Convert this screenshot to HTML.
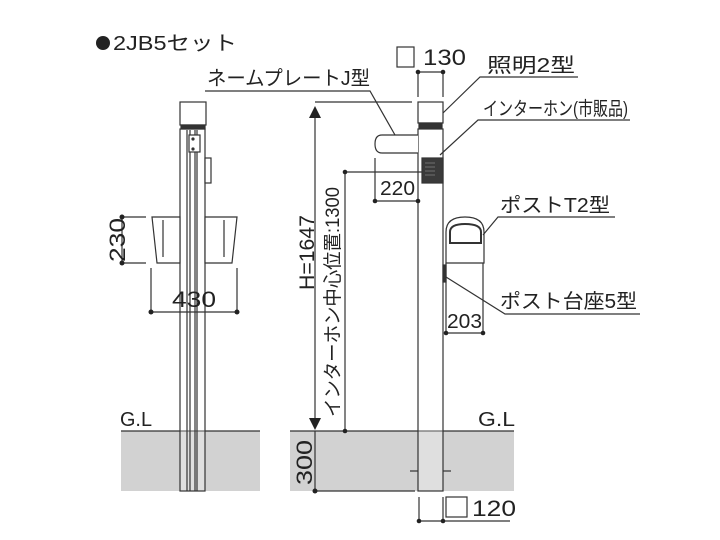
<!DOCTYPE html>
<html><head><meta charset="utf-8"><style>
html,body{margin:0;padding:0;background:#fff;}
svg{display:block;}
text{font-family:"Liberation Sans","Noto Sans CJK JP",sans-serif;fill:#222;}
</style></head><body>
<svg width="720" height="540" viewBox="0 0 720 540" xmlns="http://www.w3.org/2000/svg">
<g stroke="#333" stroke-width="1.2" fill="none">
<rect x="121" y="431" width="139" height="60" fill="#d2d2d2" stroke="none"/>
<rect x="290" y="431" width="224" height="60" fill="#d2d2d2" stroke="none"/>
<line x1="121" y1="431" x2="260" y2="431"/>
<line x1="290" y1="431" x2="514" y2="431"/>

<rect x="180" y="102" width="26" height="23" fill="#fff"/>
<rect x="181" y="125" width="24" height="4" fill="#333"/>
<rect x="180" y="129" width="25" height="362" fill="#fff" fill-opacity="0.3"/>
<line x1="187" y1="130" x2="187" y2="491"/>
<line x1="190" y1="130" x2="190" y2="491"/>
<line x1="195" y1="130" x2="195" y2="491"/>
<line x1="197" y1="130" x2="197" y2="491"/>
<rect x="189" y="135" width="11" height="17" fill="#fff"/>
<circle cx="193" cy="139" r="1" fill="#333"/><circle cx="193" cy="149" r="1" fill="#333"/>
<rect x="205" y="158" width="6" height="25" fill="#fff"/>
<path d="M152 217 L180 217 L180 263 L157 263 Z" fill="#fff"/>
<path d="M205 217 L237 217 L232 263 L205 263 Z" fill="#fff"/>
<line x1="163" y1="220" x2="163" y2="257"/>
<line x1="224" y1="220" x2="224" y2="257"/>
<line x1="122" y1="217" x2="122" y2="263"/>
<line x1="122" y1="217" x2="146" y2="217"/>
<line x1="122" y1="263" x2="146" y2="263"/>
<line x1="151" y1="268" x2="151" y2="312"/>
<line x1="237" y1="268" x2="237" y2="312"/>
<line x1="151" y1="312" x2="237" y2="312"/>

<rect x="418" y="102" width="25" height="21" fill="#fff"/>
<rect x="419" y="123" width="23" height="5" fill="#333"/>
<rect x="418" y="129" width="25" height="362" fill="#fff" fill-opacity="0.3"/>
<line x1="410" y1="471" x2="418" y2="471"/><line x1="443" y1="471" x2="451" y2="471"/>
<path d="M418 135 L382 135 Q375 135 375 144 Q375 153 382 153 L418 153" fill="#fff"/>
<rect x="422" y="158" width="21" height="25" fill="#3a3a3a"/>
<g stroke="#888" stroke-width="0.7"><line x1="425" y1="163" x2="435" y2="163"/><line x1="425" y1="167" x2="435" y2="167"/><line x1="425" y1="171" x2="435" y2="171"/><line x1="425" y1="175" x2="435" y2="175"/></g>
<path d="M446 263 L446 232 Q446 217 465 217 Q484 217 484 232 L484 263 Z" fill="#fff"/>
<path d="M450 243 L450 232 Q450 224 465 224 Q481 224 481 232 L481 243 Z" fill="none" stroke-width="2"/>
<rect x="443" y="265" width="3" height="17" fill="#333"/>
<rect x="397" y="47" width="17" height="20" fill="#fff"/>
<line x1="418" y1="72" x2="418" y2="97"/><line x1="443" y1="72" x2="443" y2="97"/>
<line x1="418" y1="72" x2="443" y2="72"/>
<line x1="315" y1="102" x2="412" y2="102"/>
<line x1="315" y1="118" x2="315" y2="418"/>
<line x1="315" y1="431" x2="315" y2="491"/>
<line x1="315" y1="491" x2="415" y2="491"/>
<line x1="345" y1="172" x2="422" y2="172"/>
<line x1="345" y1="172" x2="345" y2="431"/>
<line x1="375" y1="158" x2="375" y2="201"/>
<line x1="375" y1="201" x2="418" y2="201"/>
<line x1="446" y1="263" x2="446" y2="333"/>
<line x1="483" y1="263" x2="483" y2="333"/>
<line x1="446" y1="333" x2="483" y2="333"/>
<line x1="419" y1="497" x2="419" y2="521"/><line x1="443" y1="497" x2="443" y2="521"/>
<line x1="419" y1="521" x2="510" y2="521"/>
<rect x="446" y="497" width="21" height="20" fill="#fff"/>
<polyline points="205,91 370,91 395,135"/>
<polyline points="578,77 480,77 443,113"/>
<polyline points="630,120 478,120 440,155"/>
<polyline points="615,217 498,217 483,235"/>
<polyline points="640,314 505,314 446,277"/>
</g>
<g fill="#222">
<circle cx="103" cy="43" r="7"/>
<polygon points="315,106 309,118 321,118"/>
<polygon points="315,430 309,418 321,418"/>
<circle cx="122" cy="217" r="2.5"/><circle cx="122" cy="263" r="2.5"/>
<circle cx="151" cy="312" r="2.5"/><circle cx="237" cy="312" r="2.5"/>
<circle cx="418" cy="72" r="2.3"/><circle cx="443" cy="72" r="2.3"/>
<circle cx="375" cy="201" r="2.3"/><circle cx="418" cy="201" r="2.3"/>
<circle cx="345" cy="172" r="2.3"/><circle cx="345" cy="431" r="2.3"/>
<circle cx="315" cy="491" r="2.5"/>
<circle cx="446" cy="333" r="2.3"/><circle cx="483" cy="333" r="2.3"/>
<circle cx="419" cy="521" r="2.3"/><circle cx="443" cy="521" r="2.3"/>
</g>
<text x="113" y="50" font-size="20" textLength="124" lengthAdjust="spacingAndGlyphs">2JB5セット</text>
<text x="207" y="85" font-size="20" textLength="163" lengthAdjust="spacingAndGlyphs">ネームプレートJ型</text>
<text x="487" y="72" font-size="20" textLength="88" lengthAdjust="spacingAndGlyphs">照明2型</text>
<text x="483" y="115" font-size="19" textLength="145" lengthAdjust="spacingAndGlyphs">インターホン(市販品)</text>
<text x="500" y="212" font-size="20" textLength="110" lengthAdjust="spacingAndGlyphs">ポストT2型</text>
<text x="500" y="308" font-size="20" textLength="137" lengthAdjust="spacingAndGlyphs">ポスト台座5型</text>
<text x="423" y="65" font-size="22" textLength="43" lengthAdjust="spacingAndGlyphs">130</text>
<text x="472" y="516" font-size="22" textLength="44" lengthAdjust="spacingAndGlyphs">120</text>
<text x="380" y="195" font-size="20" textLength="35" lengthAdjust="spacingAndGlyphs">220</text>
<text x="447" y="328" font-size="20" textLength="35" lengthAdjust="spacingAndGlyphs">203</text>
<text x="172" y="307" font-size="22" textLength="44" lengthAdjust="spacingAndGlyphs">430</text>
<text x="120" y="426" font-size="20" textLength="32" lengthAdjust="spacingAndGlyphs">G.L</text>
<text x="478" y="426" font-size="20" textLength="37" lengthAdjust="spacingAndGlyphs">G.L</text>
<text transform="translate(125,262) rotate(-90)" font-size="22" textLength="44" lengthAdjust="spacingAndGlyphs">230</text>
<text transform="translate(312,485) rotate(-90)" font-size="22" textLength="45" lengthAdjust="spacingAndGlyphs">300</text>
<text transform="translate(314,290) rotate(-90)" font-size="21" textLength="75" lengthAdjust="spacingAndGlyphs">H=1647</text>
<text transform="translate(339,417) rotate(-90)" font-size="19" textLength="230" lengthAdjust="spacingAndGlyphs">インターホン中心位置:1300</text>
</svg>
</body></html>
